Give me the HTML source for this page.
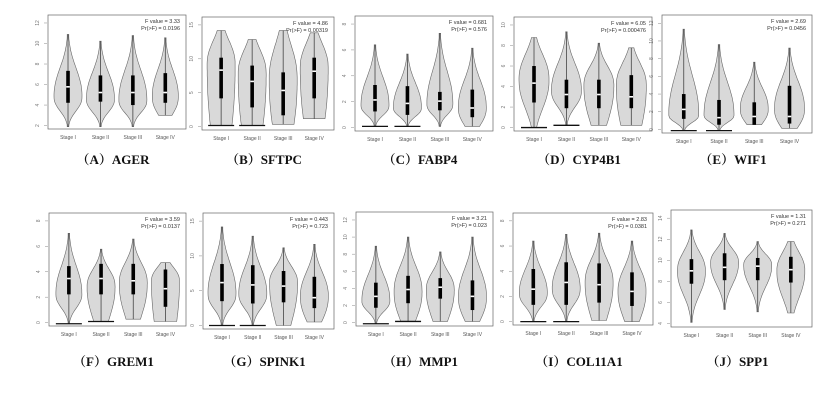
<!DOCTYPE html>
<html><head><meta charset="utf-8"><style>
html,body{margin:0;padding:0;background:#fff;width:838px;height:403px;overflow:hidden}
svg{display:block}
</style></head><body>
<svg id="s" width="838" height="403" xmlns="http://www.w3.org/2000/svg"></svg>
<script>
const P=[
{b:[48,15,186,129],t:"（A）AGER",f:["F value = 3.33","Pr(>F) = 0.0196"],ty:["2","4","6","8","10","12"],
 v:[[.17,.98,.72,14,.49,.63,.77,0,0],[.23,.98,.74,14,.53,.68,.76,0,0],[.18,.98,.75,14,.53,.68,.79,0,0],[.2,.88,.72,13,.51,.68,.77,0,1]]},
{b:[202,17,334,130],t:"（B）SFTPC",f:["F value = 4.86","Pr(>F) = 0.00319"],ty:["0","5","10","15"],
 v:[[.12,.96,.42,14,.36,.47,.72,1,1,1.5],[.2,.96,.5,14,.43,.57,.8,1,1,1.5],[.12,.95,.55,14,.49,.65,.87,0,1,1.5],[.14,.9,.45,14,.36,.48,.72,0,1,1.5]]},
{b:[355,16,493,131],t:"（C）FABP4",f:["F value = 0.681","Pr(>F) = 0.576"],ty:["0","2","4","6","8"],
 v:[[.25,.96,.78,14,.6,.73,.83,1,0],[.33,.96,.8,14,.61,.76,.86,1,0],[.15,.96,.77,13,.66,.74,.82,0,0],[.28,.96,.8,14,.64,.8,.88,0,1]]},
{b:[514,17,652,131],t:"（D）CYP4B1",f:["F value = 6.05","Pr(>F) = 0.000476"],ty:["0","2","4","6","8","10"],
 v:[[.18,.97,.55,15,.43,.58,.75,1,0,1.3],[.13,.95,.65,15,.55,.68,.8,1,0],[.23,.95,.6,15,.55,.68,.8,0,1],[.27,.95,.6,15,.51,.7,.8,0,1,1.3]]},
{b:[662,15,812,133],t:"（E）WIF1",f:["F value = 2.69","Pr(>F) = 0.0456"],ty:["0","2","4","6","8","10","12"],
 v:[[.12,.98,.85,15,.67,.8,.88,1,0],[.25,.98,.85,15,.72,.87,.93,1,0],[.4,.93,.8,14,.74,.86,.93,0,1],[.28,.96,.8,15,.6,.86,.92,0,1]]},
{b:[49,213,186,326],t:"（F）GREM1",f:["F value = 3.59","Pr(>F) = 0.0137"],ty:["0","2","4","6","8"],
 v:[[.18,.98,.72,13,.47,.58,.72,1,0],[.32,.96,.65,14,.45,.58,.72,1,1],[.23,.94,.62,14,.45,.6,.72,0,1],[.44,.96,.6,14,.5,.67,.83,0,1,1.6]]},
{b:[203,213,334,329],t:"（G）SPINK1",f:["F value = 0.443","Pr(>F) = 0.723"],ty:["0","5","10","15"],
 v:[[.12,.97,.7,14,.44,.6,.76,1,0],[.2,.97,.7,14,.45,.62,.78,1,0],[.3,.97,.6,14,.5,.63,.77,0,1],[.27,.94,.72,14,.55,.73,.82,0,1]]},
{b:[356,212,493,326],t:"（H）MMP1",f:["F value = 3.21","Pr(>F) = 0.023"],ty:["0","2","4","6","8","10","12"],
 v:[[.3,.98,.78,14,.62,.74,.84,1,0],[.22,.96,.7,14,.56,.68,.8,1,1],[.35,.96,.68,14,.58,.66,.76,0,1],[.22,.96,.75,14,.6,.74,.86,0,1]]},
{b:[513,213,653,325],t:"（I）COL11A1",f:["F value = 2.83","Pr(>F) = 0.0381"],ty:["0","2","4","6","8"],
 v:[[.25,.97,.72,14,.5,.68,.82,1,0],[.19,.97,.68,14,.44,.62,.82,1,0],[.18,.96,.62,14,.45,.64,.8,0,1],[.25,.97,.7,14,.53,.7,.83,0,1]]},
{b:[671,210,812,327],t:"（J）SPP1",f:["F value = 1.31","Pr(>F) = 0.271"],ty:["4","6","8","10","12","14"],
 v:[[.17,.96,.52,14,.42,.52,.63,0,0],[.2,.85,.45,14,.37,.49,.6,0,0],[.27,.87,.47,14,.41,.48,.6,0,0],[.27,.88,.52,14,.4,.51,.62,0,0,1.4]]}
];
let o='';
const st=["Stage I","Stage II","Stage III","Stage IV"];
for(const p of P){
 const [x0,y0,x1,y1]=p.b,w=x1-x0,h=y1-y0;
 o+=`<rect x="${x0}" y="${y0}" width="${w}" height="${h}" fill="#fff" stroke="#666" stroke-width="0.7"/>`;
 const n=p.ty.length;
 for(let i=0;i<n;i++){
  const yy=y1-h*0.03-(h*0.9)*i/(n-1);
  o+=`<line x1="${x0-4}" x2="${x0-1}" y1="${yy}" y2="${yy}" stroke="#888" stroke-width="0.5"/>`;
  o+=`<text x="${x0-9}" y="${yy}" font-size="5" fill="#777" font-family="Liberation Sans,sans-serif" text-anchor="middle" transform="rotate(-90 ${x0-9} ${yy})">${p.ty[i]}</text>`;
 }
 o+=`<text x="${x1-6}" y="${y0+8}" font-size="5.5" fill="#333" font-family="Liberation Sans,sans-serif" text-anchor="end">${p.f[0]}</text>`;
 o+=`<text x="${x1-6}" y="${y0+15}" font-size="5.5" fill="#333" font-family="Liberation Sans,sans-serif" text-anchor="end">${p.f[1]}</text>`;
 p.v.forEach((v,i)=>{
  const cx=x0+w*(0.145+0.235*i);
  const [tp,bt,bg,hw,q3,md,q1,zero,flat,sm]=v;
  const Y=f=>y0+h*f;
  const su=(bg-tp)*0.6*(sm||1), sd=(bt-bg)*0.6*(flat?2:1)*(sm||1);
  const pts=[];const N=40;
  for(let k=0;k<=N;k++){const f=tp+(bt-tp)*k/N;const s=f<bg?su:sd;let ww=hw*Math.exp(-Math.pow(Math.abs((f-bg)/s),2.3));ww=Math.max(ww,0.8);pts.push([f,ww]);}
  let d='M'+pts.map(q=>`${(cx+q[1]).toFixed(1)},${Y(q[0]).toFixed(1)}`).join(' L');
  d+=' L'+pts.slice().reverse().map(q=>`${(cx-q[1]).toFixed(1)},${Y(q[0]).toFixed(1)}`).join(' L')+'Z';
  o+=`<path d="${d}" fill="#d9d9d9" stroke="#666" stroke-width="0.6"/>`;
  o+=`<line x1="${cx}" x2="${cx}" y1="${Y(tp)}" y2="${Y(bt)}" stroke="#444" stroke-width="0.8"/>`;
  o+=`<rect x="${cx-1.8}" y="${Y(q3)}" width="3.6" height="${Y(q1)-Y(q3)}" fill="#000"/>`;
  o+=`<rect x="${cx-1.8}" y="${Y(md)-0.8}" width="3.6" height="1.6" fill="#fff"/>`;
  if(zero)o+=`<line x1="${cx-13}" x2="${cx+13}" y1="${Y(bt)}" y2="${Y(bt)}" stroke="#111" stroke-width="1.3"/>`;
  o+=`<text x="${cx}" y="${y1+10}" font-size="5" fill="#555" font-family="Liberation Sans,sans-serif" text-anchor="middle">${st[i]}</text>`;
 });
 o+=`<text x="${(x0+x1)/2-4}" y="${y0<100?164:366}" font-size="13" font-weight="bold" fill="#111" font-family="Liberation Serif,'Noto Serif CJK SC',serif" text-anchor="middle">${p.t}</text>`;
}
document.getElementById('s').innerHTML=o;
</script>
</body></html>
